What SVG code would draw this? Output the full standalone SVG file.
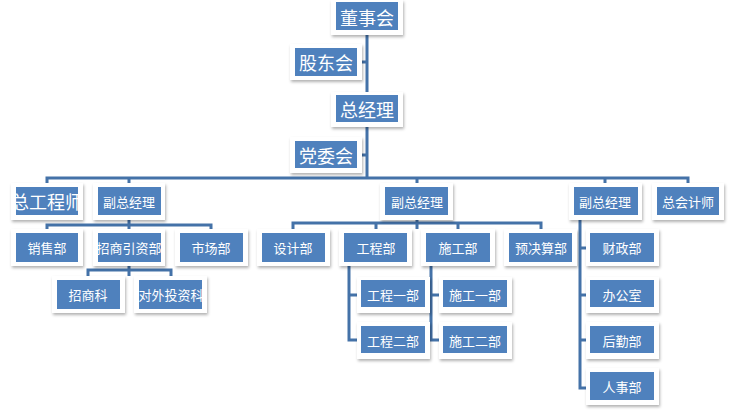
<svg xmlns="http://www.w3.org/2000/svg" width="734" height="410" viewBox="0 0 734 410">
<defs>
<filter id="sh" x="-20%" y="-20%" width="140%" height="150%"><feDropShadow dx="1" dy="2" stdDeviation="1.5" flood-color="#000" flood-opacity="0.3"/></filter>
<style>
.o{fill:#fff;filter:url(#sh)}
.i{fill:#4F81BD;stroke:#fff;stroke-width:0}
text{fill:#fff;font-family:"Noto Sans CJK SC","Liberation Sans",sans-serif;text-anchor:middle;dominant-baseline:central}
.b{font-size:18px}
.s{font-size:13px}
.c path{fill:none;stroke:#4472A8;stroke-width:3}
</style>
</defs>
<rect width="734" height="410" fill="#fff"/>
<g class="c">
<path d="M367 34V178M362 62H367M362 155H367"/>
<path d="M47 183V178H688V183M129 178V183M417 178V183M605 178V183"/>
<path d="M47 229V225H211V229M129 220V229"/>
<path d="M88 276V270H171V276M129 266V276"/>
<path d="M293 229V223H541V229M376 223V229M458 223V229M417 220V229"/>
<path d="M349 266V340H357M349 295H357"/>
<path d="M431 266V340H439M431 295H439"/>
<path d="M580 220V388H586M580 248H586M580 295H586M580 340H586"/>
</g>
<g id="n1"><rect class="o" x="331" y="0" width="72" height="35"/><rect class="i" x="336" y="2" width="62" height="28"/><text class="b" x="367" y="17">董事会</text></g>
<g id="n2"><rect class="o" x="290" y="44" width="72" height="36"/><rect class="i" x="295" y="48" width="62" height="28"/><text class="b" x="326" y="62">股东会</text></g>
<g id="n3"><rect class="o" x="331" y="92" width="72" height="35"/><rect class="i" x="336" y="95" width="62" height="27"/><text class="b" x="367" y="109">总经理</text></g>
<g id="n4"><rect class="o" x="290" y="137" width="72" height="36"/><rect class="i" x="295" y="141" width="62" height="27"/><text class="b" x="326" y="155">党委会</text></g>
<g id="n5"><rect class="o" x="11" y="183" width="72" height="37"/><rect class="i" x="16" y="187" width="62" height="28"/><text class="b" x="47" y="201">总工程师</text></g>
<g id="n6"><rect class="o" x="93" y="183" width="72" height="37"/><rect class="i" x="98" y="187" width="63" height="28"/><text class="s" x="129" y="201">副总经理</text></g>
<g id="n7"><rect class="o" x="380" y="183" width="73" height="37"/><rect class="i" x="385" y="187" width="63" height="28"/><text class="s" x="417" y="201">副总经理</text></g>
<g id="n8"><rect class="o" x="569" y="183" width="73" height="37"/><rect class="i" x="574" y="187" width="64" height="28"/><text class="s" x="605" y="201">副总经理</text></g>
<g id="n9"><rect class="o" x="652" y="183" width="72" height="37"/><rect class="i" x="657" y="187" width="62" height="28"/><text class="s" x="688" y="201">总会计师</text></g>
<g id="n10"><rect class="o" x="11" y="229" width="72" height="37"/><rect class="i" x="16" y="233" width="62" height="29"/><text class="s" x="47" y="247">销售部</text></g>
<g id="n11"><rect class="o" x="93" y="229" width="72" height="37"/><rect class="i" x="98" y="233" width="63" height="29"/><text class="s" x="129" y="247">招商引资部</text></g>
<g id="n12"><rect class="o" x="175" y="229" width="73" height="37"/><rect class="i" x="180" y="233" width="63" height="29"/><text class="s" x="211" y="247">市场部</text></g>
<g id="n13"><rect class="o" x="52" y="276" width="73" height="37"/><rect class="i" x="57" y="280" width="63" height="29"/><text class="s" x="88" y="294">招商科</text></g>
<g id="n14"><rect class="o" x="134" y="276" width="73" height="37"/><rect class="i" x="139" y="280" width="63" height="29"/><text class="s" x="171" y="294">对外投资科</text></g>
<g id="n15"><rect class="o" x="257" y="229" width="73" height="37"/><rect class="i" x="262" y="233" width="63" height="29"/><text class="s" x="293" y="247">设计部</text></g>
<g id="n16"><rect class="o" x="339" y="229" width="73" height="37"/><rect class="i" x="344" y="233" width="63" height="29"/><text class="s" x="376" y="247">工程部</text></g>
<g id="n17"><rect class="o" x="421" y="229" width="74" height="37"/><rect class="i" x="426" y="233" width="64" height="29"/><text class="s" x="458" y="247">施工部</text></g>
<g id="n18"><rect class="o" x="504" y="229" width="73" height="37"/><rect class="i" x="509" y="233" width="63" height="29"/><text class="s" x="541" y="247">预决算部</text></g>
<g id="n19"><rect class="o" x="357" y="277" width="73" height="36"/><rect class="i" x="361" y="280" width="64" height="27"/><text class="s" x="393" y="294">工程一部</text></g>
<g id="n20"><rect class="o" x="357" y="322" width="73" height="37"/><rect class="i" x="361" y="326" width="64" height="27"/><text class="s" x="393" y="340">工程二部</text></g>
<g id="n21"><rect class="o" x="439" y="277" width="73" height="36"/><rect class="i" x="443" y="280" width="64" height="27"/><text class="s" x="475" y="294">施工一部</text></g>
<g id="n22"><rect class="o" x="439" y="322" width="73" height="37"/><rect class="i" x="443" y="326" width="64" height="27"/><text class="s" x="475" y="340">施工二部</text></g>
<g id="n23"><rect class="o" x="586" y="229" width="73" height="37"/><rect class="i" x="590" y="233" width="64" height="29"/><text class="s" x="622" y="247">财政部</text></g>
<g id="n24"><rect class="o" x="586" y="277" width="73" height="36"/><rect class="i" x="590" y="280" width="64" height="27"/><text class="s" x="622" y="294">办公室</text></g>
<g id="n25"><rect class="o" x="586" y="322" width="73" height="37"/><rect class="i" x="590" y="326" width="64" height="27"/><text class="s" x="622" y="340">后勤部</text></g>
<g id="n26"><rect class="o" x="586" y="368" width="73" height="37"/><rect class="i" x="590" y="372" width="64" height="28"/><text class="s" x="622" y="386">人事部</text></g>
</svg>
